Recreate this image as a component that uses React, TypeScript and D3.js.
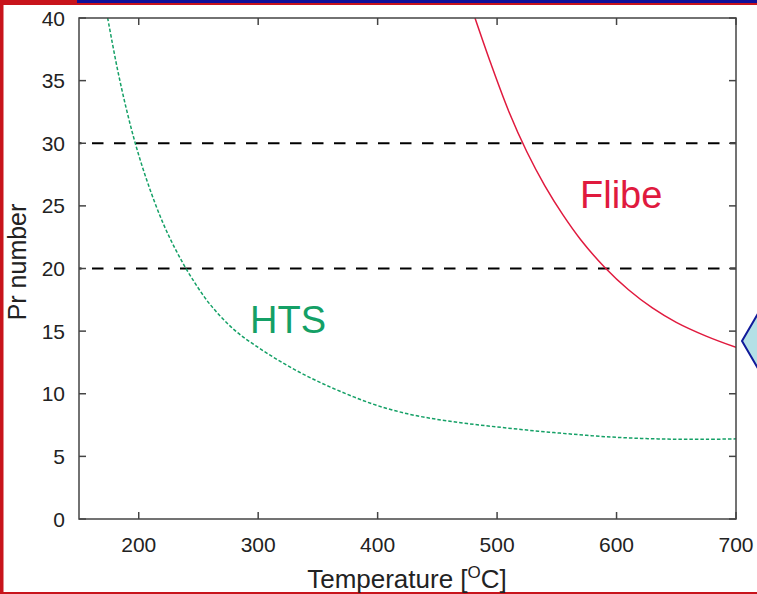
import React, { useRef, useEffect } from "react";
import * as d3 from "d3";

// HTS Prandtl number vs temperature
const htsTemp = [174, 182, 190, 198, 208, 220, 232, 244, 260, 280, 300, 320, 340, 360, 380, 400, 425, 450, 475, 500, 525, 550, 575, 600, 625, 650, 675, 700];
const htsPr = [40, 36, 32.6, 29.7, 26.7, 23.7, 21.3, 19.3, 17.1, 15.1, 13.7, 12.5, 11.45, 10.55, 9.75, 9.05, 8.4, 7.95, 7.62, 7.35, 7.1, 6.88, 6.68, 6.52, 6.42, 6.37, 6.36, 6.4];

// Flibe
const flibeTemp = [481.5, 495, 510, 525, 540, 555, 570, 590, 610, 630, 650, 675, 700];
const flibePr = [40, 36.3, 32.5, 29.3, 26.6, 24.3, 22.3, 20.1, 18.3, 16.85, 15.7, 14.6, 13.7];

const refLines = [20, 30];
const xTicks = [200, 300, 400, 500, 600, 700];
const yTicks = [0, 5, 10, 15, 20, 25, 30, 35, 40];

const App = () => {
  const container = useRef<SVGSVGElement | null>(null);

  useEffect(() => {
    const svg = d3.select(container.current);
    svg.selectAll("*").remove();

    const W = 757, H = 594;
    const m = { l: 79, t: 18, r: 757 - 736, b: 594 - 519 };
    const font = "Liberation Sans, Arial, Helvetica, sans-serif";

    const x = d3.scaleLinear().domain([150, 700]).range([m.l, W - m.r]);
    const y = d3.scaleLinear().domain([0, 40]).range([H - m.b, m.t]);

    svg.append("rect").attr("width", W).attr("height", H).attr("fill", "#fff");

    // slide decorations
    svg.append("rect").attr("x", 0).attr("y", 0).attr("width", 3.5).attr("height", H).attr("fill", "#c8141c");
    svg.append("rect").attr("x", 0).attr("y", 0).attr("width", 77).attr("height", 5).attr("fill", "#c8141c");
    svg.append("rect").attr("x", 77).attr("y", 0).attr("width", W - 77).attr("height", 3).attr("fill", "#10109a");
    svg.append("rect").attr("x", 77).attr("y", 3).attr("width", W - 77).attr("height", 2).attr("fill", "#c8141c");
    svg.append("rect").attr("x", 0).attr("y", 592).attr("width", W).attr("height", 2).attr("fill", "#c8141c");
    svg.append("path")
      .attr("d", "M742,341 L760,310 L760,372 Z")
      .attr("fill", "#b4e0e6")
      .attr("stroke", "#101a9a")
      .attr("stroke-width", 2);

    const clipId = "plot-clip";
    svg.append("clipPath").attr("id", clipId)
      .append("rect")
      .attr("x", m.l).attr("y", m.t)
      .attr("width", W - m.l - m.r).attr("height", H - m.t - m.b);

    const plot = svg.append("g").attr("clip-path", `url(#${clipId})`);

    // reference lines
    plot.selectAll(".ref-line")
      .data(refLines)
      .join("line")
      .attr("class", "ref-line")
      .attr("x1", m.l).attr("x2", W - m.r)
      .attr("y1", (d) => y(d)).attr("y2", (d) => y(d))
      .attr("stroke", "#000")
      .attr("stroke-width", 2)
      .attr("stroke-dasharray", "11.5,10.5")
      .attr("stroke-dashoffset", 9);

    const line = d3.line<[number, number]>()
      .x((d) => x(d[0]))
      .y((d) => y(d[1]))
      .curve(d3.curveCatmullRom.alpha(0.5));

    plot.append("path")
      .datum(htsTemp.map((t, i) => [t, htsPr[i]] as [number, number]))
      .attr("d", line)
      .attr("fill", "none")
      .attr("stroke", "#14a066")
      .attr("stroke-width", 1.5)
      .attr("stroke-dasharray", "3.5,2");

    plot.append("path")
      .datum(flibeTemp.map((t, i) => [t, flibePr[i]] as [number, number]))
      .attr("d", line)
      .attr("fill", "none")
      .attr("stroke", "#e01a3e")
      .attr("stroke-width", 1.5);

    // frame
    svg.append("rect")
      .attr("x", m.l).attr("y", m.t)
      .attr("width", W - m.l - m.r).attr("height", H - m.t - m.b)
      .attr("fill", "none")
      .attr("stroke", "#444")
      .attr("stroke-width", 1.5);

    // ticks (inward, mirrored)
    const tl = 7;
    const axes = svg.append("g").attr("stroke", "#444").attr("stroke-width", 1.5);
    xTicks.forEach((t) => {
      axes.append("line").attr("x1", x(t)).attr("x2", x(t)).attr("y1", y(0)).attr("y2", y(0) - tl);
      axes.append("line").attr("x1", x(t)).attr("x2", x(t)).attr("y1", y(40)).attr("y2", y(40) + tl);
    });
    yTicks.forEach((t) => {
      axes.append("line").attr("x1", m.l).attr("x2", m.l + tl).attr("y1", y(t)).attr("y2", y(t));
      axes.append("line").attr("x1", W - m.r).attr("x2", W - m.r - tl).attr("y1", y(t)).attr("y2", y(t));
    });

    svg.selectAll(".xlab")
      .data(xTicks)
      .join("text")
      .attr("class", "xlab")
      .attr("x", (d) => x(d))
      .attr("y", y(0) + 33)
      .attr("text-anchor", "middle")
      .attr("font-family", font)
      .attr("font-size", 21)
      .attr("fill", "#222")
      .text((d) => d);

    svg.selectAll(".ylab")
      .data(yTicks)
      .join("text")
      .attr("class", "ylab")
      .attr("x", 65)
      .attr("y", (d) => y(d) + 7.5)
      .attr("text-anchor", "end")
      .attr("font-family", font)
      .attr("font-size", 21)
      .attr("fill", "#222")
      .text((d) => d);

    const xt = svg.append("text")
      .attr("x", 407)
      .attr("y", 588)
      .attr("text-anchor", "middle")
      .attr("font-family", font)
      .attr("font-size", 26)
      .attr("fill", "#222");
    xt.append("tspan").text("Temperature [");
    xt.append("tspan").attr("font-size", 17).attr("dy", -10).text("O");
    xt.append("tspan").attr("dy", 10).text("C]");

    svg.append("text")
      .attr("transform", "translate(26,262) rotate(-90)")
      .attr("text-anchor", "middle")
      .attr("font-family", font)
      .attr("font-size", 25)
      .attr("fill", "#222")
      .text("Pr number");

    svg.append("text")
      .attr("x", 250)
      .attr("y", 333)
      .attr("font-family", font)
      .attr("font-size", 38)
      .attr("fill", "#14a066")
      .text("HTS");

    svg.append("text")
      .attr("x", 580)
      .attr("y", 208)
      .attr("font-family", font)
      .attr("font-size", 38)
      .attr("fill", "#e01a3e")
      .text("Flibe");
  });

  return (
    <svg
      ref={container}
      width={757}
      height={594}
      style={{ position: "absolute", left: 0, top: 0, display: "block" }}
    />
  );
};

export default App;
